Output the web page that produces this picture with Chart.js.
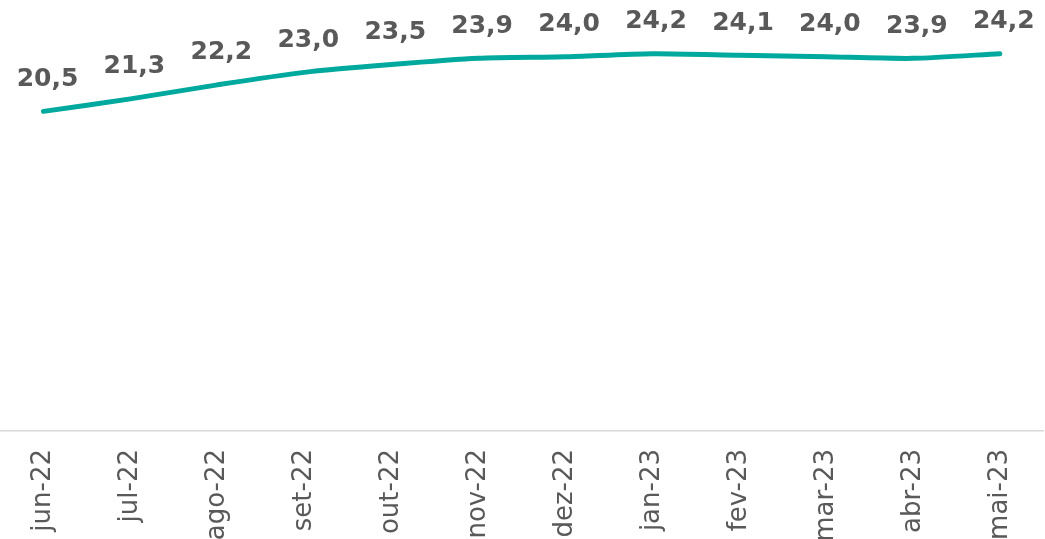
<!DOCTYPE html>
<html>
<head>
<meta charset="utf-8">
<script src="https://cdn.jsdelivr.net/npm/chart.js@4/dist/chart.umd.min.js"></script>
<style>
  html, body { margin: 0; padding: 0; background: #ffffff; overflow: hidden; }
  #wrap { position: absolute; left: 0; top: 0; width: 1049px; height: 539px; }
</style>
</head>
<body>
<div id="wrap"><canvas id="c"></canvas></div>
<script>
const categories = ["jun-22","jul-22","ago-22","set-22","out-22","nov-22","dez-22","jan-23","fev-23","mar-23","abr-23","mai-23"];
const values = [20.5, 21.3, 22.2, 23.0, 23.5, 23.9, 24.0, 24.2, 24.1, 24.0, 23.9, 24.2];

const labelPlugin = {
  id: 'valueLabels',
  afterDatasetsDraw(chart) {
    const ctx = chart.ctx;
    const meta = chart.getDatasetMeta(0);
    ctx.save();
    ctx.font = 'bold 25px "DejaVu Sans", Verdana, sans-serif';
    ctx.fillStyle = '#595959';
    ctx.textAlign = 'center';
    ctx.textBaseline = 'middle';
    meta.data.forEach((pt, i) => {
      const txt = values[i].toFixed(1).replace('.', ',');
      ctx.fillText(txt, pt.x + 4, pt.y - 32);
    });
    ctx.restore();
  }
};

new Chart(document.getElementById('c'), {
  type: 'line',
  data: {
    labels: categories,
    datasets: [{
      data: values,
      borderColor: '#00A99D',
      borderWidth: 5,
      pointRadius: 0,
      tension: 0.25,
      borderCapStyle: 'round',
      fill: false
    }]
  },
  options: {
    responsive: true,
    maintainAspectRatio: false,
    animation: false,
    layout: { padding: { top: 10, left: 0, right: 0, bottom: 0 } },
    plugins: { legend: { display: false }, tooltip: { enabled: false } },
    scales: {
      x: {
        offset: true,
        grid: { display: false, drawTicks: false },
        border: { display: true, color: '#d9d9d9', width: 1.5 },
        ticks: {
          minRotation: 90, maxRotation: 90, autoSkip: false,
          padding: 18,
          color: '#595959',
          font: { family: '"DejaVu Sans", Verdana, sans-serif', size: 26 }
        },
        afterFit(scale) { scale.height = 108; }
      },
      y: {
        display: false,
        min: 0,
        max: 27
      }
    }
  },
  plugins: [labelPlugin]
});
</script>
</body>
</html>
